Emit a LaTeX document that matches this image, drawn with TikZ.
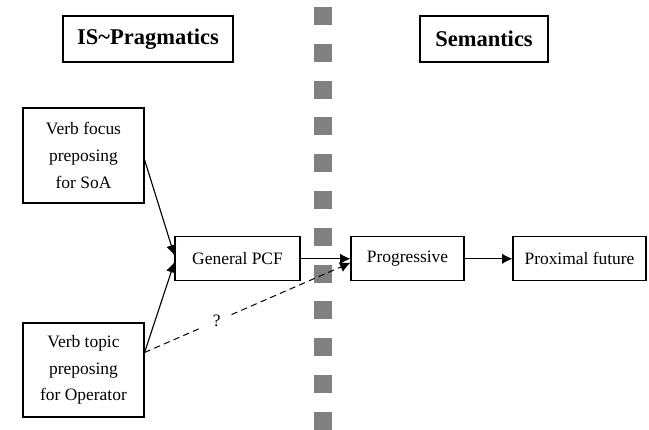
\documentclass[tikz,border=0pt]{standalone}
\usepackage{fontspec}
\setmainfont{Liberation Serif}
\usetikzlibrary{arrows.meta}

\tikzset{
  box/.style={draw, line width=0.8pt, align=center, inner sep=0pt,
    font=\fontsize{12.4}{19}\selectfont},
  head/.style={box, minimum height=1.15cm,
    font=\fontsize{16}{19}\selectfont\bfseries},
  arr/.style={line width=0.8pt, -{Latex[length=2.6mm,width=2.6mm]}}
}

\begin{document}
\begin{tikzpicture}
\useasboundingbox (0,0) rectangle (16.225,-10.75);

% grey square dashes splitting the two sides
\draw[gray, line width=0.45cm, dash pattern=on 0.45cm off 0.47cm]
  (8.075,-0.175) -- (8.075,-10.75);

\node[head, minimum width=4.25cm] (is) at (3.7,-0.975) {IS\textasciitilde Pragmatics};
\node[head, minimum width=3.2cm] (sem) at (12.1,-0.975) {Semantics};

\node[box, minimum width=3.025cm, minimum height=2.375cm] (vfocus) at (2.0875,-3.8875)
  {Verb focus\\preposing\\for SoA};
\node[box, minimum width=3.025cm, minimum height=2.35cm] (vtopic) at (2.0875,-9.25)
  {Verb topic\\preposing\\for Operator};

\node[box, minimum width=3.125cm, minimum height=1.1cm] (pcf) at (5.9375,-6.47) {General PCF};
\node[box, minimum width=2.825cm, minimum height=1.1cm] (prog) at (10.1875,-6.47) {Progressive};
\node[box, minimum width=3.325cm, minimum height=1.1cm] (prox) at (14.4875,-6.47) {Proximal future};

\draw[arr] (vfocus.-4) -- (pcf.177);
\draw[arr] (vtopic.16) -- (pcf.183);
\draw[arr, line width=0.7pt, dash pattern=on 4.5pt off 3pt] (vtopic.16) -- (prog.184)
  node[pos=0.35, fill=white, inner sep=0.27cm, font=\fontsize{12.4}{19}\selectfont] (q) {?};
\draw[arr] (pcf.east) -- (prog.west);
\draw[arr] (prog.east) -- (prox.west);

\end{tikzpicture}
\end{document}
